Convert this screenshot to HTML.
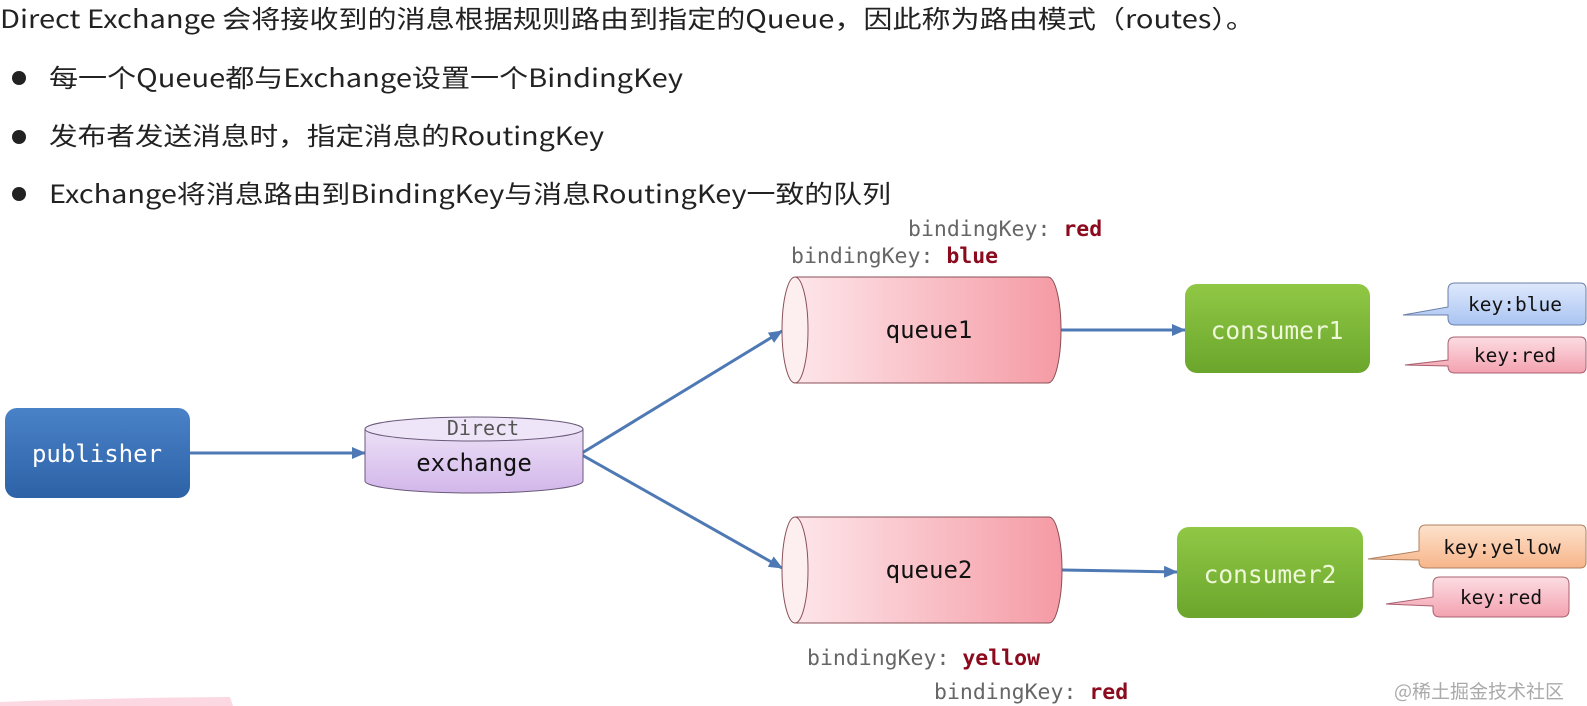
<!DOCTYPE html>
<html><head><meta charset="utf-8"><style>
html,body{margin:0;padding:0;background:#fff;}
svg{display:block;}
.t{font-family:"Noto Sans CJK SC","Liberation Sans",sans-serif;font-size:25px;fill:#222;}
.m{font-family:"DejaVu Sans Mono","Liberation Mono",monospace;}
</style></head><body>
<svg width="1587" height="706" viewBox="0 0 1587 706" xmlns="http://www.w3.org/2000/svg">
<defs>
<linearGradient id="pub" x1="0" y1="0" x2="0" y2="1"><stop offset="0" stop-color="#4a82c8"/><stop offset="1" stop-color="#2d62a6"/></linearGradient>
<linearGradient id="exc" x1="0" y1="0" x2="0" y2="1"><stop offset="0" stop-color="#ece0f6"/><stop offset="1" stop-color="#d2b6ea"/></linearGradient>
<linearGradient id="q" x1="0" y1="0" x2="1" y2="0"><stop offset="0" stop-color="#fde6ea"/><stop offset="1" stop-color="#f59aa4"/></linearGradient>
<linearGradient id="grn" x1="0" y1="0" x2="0" y2="1"><stop offset="0" stop-color="#90c845"/><stop offset="1" stop-color="#6ba62c"/></linearGradient>
<linearGradient id="bl" x1="0" y1="0" x2="0" y2="1"><stop offset="0" stop-color="#dfe9fc"/><stop offset="1" stop-color="#a9c4f2"/></linearGradient>
<linearGradient id="rd" x1="0" y1="0" x2="0" y2="1"><stop offset="0" stop-color="#fcdce2"/><stop offset="1" stop-color="#f3a2b0"/></linearGradient>
<linearGradient id="yl" x1="0" y1="0" x2="0" y2="1"><stop offset="0" stop-color="#fde2cc"/><stop offset="1" stop-color="#f7b58a"/></linearGradient>
<marker id="ar" markerWidth="14" markerHeight="12" refX="13" refY="6" orient="auto" markerUnits="userSpaceOnUse"><path d="M0,0 L14,6 L0,12 Z" fill="#4f79b4"/></marker>
</defs>

<text class="t" x="0" y="28" textLength="1255" lengthAdjust="spacingAndGlyphs">Direct Exchange 会将接收到的消息根据规则路由到指定的Queue，因此称为路由模式（routes）。</text>
<circle cx="19" cy="78" r="7" fill="#222"/>
<text class="t" x="49" y="87" textLength="634" lengthAdjust="spacingAndGlyphs">每一个Queue都与Exchange设置一个BindingKey</text>
<circle cx="19" cy="137" r="7" fill="#222"/>
<text class="t" x="49" y="145" textLength="555" lengthAdjust="spacingAndGlyphs">发布者发送消息时，指定消息的RoutingKey</text>
<circle cx="19" cy="194" r="7" fill="#222"/>
<text class="t" x="49" y="203" textLength="842" lengthAdjust="spacingAndGlyphs">Exchange将消息路由到BindingKey与消息RoutingKey一致的队列</text>

<g class="m" font-size="21.5">
<text x="908" y="236" fill="#666">bindingKey: <tspan fill="#8b0a1e" font-weight="bold">red</tspan></text>
<text x="791" y="263" fill="#666">bindingKey: <tspan fill="#8b0a1e" font-weight="bold">blue</tspan></text>
<text x="807" y="665" fill="#666">bindingKey: <tspan fill="#8b0a1e" font-weight="bold">yellow</tspan></text>
<text x="934" y="699" fill="#666">bindingKey: <tspan fill="#8b0a1e" font-weight="bold">red</tspan></text>
</g>

<g stroke="#4f79b4" stroke-width="3" fill="none" marker-end="url(#ar)">
<line x1="190" y1="453" x2="365" y2="453"/>
<line x1="582" y1="453" x2="782" y2="331"/>
<line x1="582" y1="455" x2="782" y2="568"/>
<line x1="1061" y1="330" x2="1185" y2="330"/>
<line x1="1062" y1="570" x2="1177" y2="572"/>
</g>

<rect x="5" y="408" width="185" height="90" rx="12" fill="url(#pub)"/>
<text class="m" x="97" y="462" font-size="24" fill="#fff" text-anchor="middle">publisher</text>

<path d="M365,429 L365,481 A109,12 0 0 0 583,481 L583,429 Z" fill="url(#exc)" stroke="#6a5a7a" stroke-width="1"/>
<ellipse cx="474" cy="429" rx="109" ry="12" fill="#efe5f8" stroke="#6a5a7a" stroke-width="1"/>
<text class="m" x="483" y="435" font-size="20" fill="#555" text-anchor="middle">Direct</text>
<text class="m" x="474" y="471" font-size="24" fill="#111" text-anchor="middle">exchange</text>

<path d="M795,277 L1048,277 A13,53 0 0 1 1048,383 L795,383 Z" fill="url(#q)" stroke="#8a5058" stroke-width="1"/>
<ellipse cx="795" cy="330" rx="13" ry="53" fill="#fdeef0" stroke="#8a5058" stroke-width="1"/>
<text class="m" x="929" y="338" font-size="24" fill="#111" text-anchor="middle">queue1</text>

<path d="M795,517 L1049,517 A13,53 0 0 1 1049,623 L795,623 Z" fill="url(#q)" stroke="#8a5058" stroke-width="1"/>
<ellipse cx="795" cy="570" rx="13" ry="53" fill="#fdeef0" stroke="#8a5058" stroke-width="1"/>
<text class="m" x="929" y="578" font-size="24" fill="#111" text-anchor="middle">queue2</text>

<rect x="1185" y="284" width="185" height="89" rx="12" fill="url(#grn)"/>
<text class="m" x="1277" y="339" font-size="24.5" fill="#eef8d8" text-anchor="middle">consumer1</text>
<rect x="1177" y="527" width="186" height="91" rx="12" fill="url(#grn)"/>
<text class="m" x="1270" y="583" font-size="24.5" fill="#eef8d8" text-anchor="middle">consumer2</text>

<g stroke="#6a7fa8" stroke-width="1">
<path d="M1455,283 L1580,283 Q1586,283 1586,289 L1586,319 Q1586,325 1580,325 L1455,325 Q1448,325 1448,318 L1448,315 L1403,315 L1448,307 L1448,290 Q1448,283 1455,283 Z" fill="url(#bl)"/>
<path d="M1455,337 L1580,337 Q1586,337 1586,343 L1586,367 Q1586,373 1580,373 L1455,373 Q1448,373 1448,366 L1448,366 L1405,365 L1448,360 L1448,344 Q1448,337 1455,337 Z" fill="url(#rd)" stroke="#a86070"/>
<path d="M1426,525 L1580,525 Q1586,525 1586,531 L1586,562 Q1586,568 1580,568 L1426,568 Q1419,568 1419,561 L1419,560 L1368,559 L1419,551 L1419,532 Q1419,525 1426,525 Z" fill="url(#yl)" stroke="#b08060"/>
<path d="M1440,577 L1562,577 Q1569,577 1569,584 L1569,610 Q1569,617 1562,617 L1440,617 Q1433,617 1433,610 L1433,606 L1386,604 L1433,597 L1433,584 Q1433,577 1440,577 Z" fill="url(#rd)" stroke="#a86070"/>
</g>
<g class="m" font-size="19.5" fill="#111" text-anchor="middle">
<text x="1515" y="311">key:blue</text>
<text x="1515" y="362">key:red</text>
<text x="1502" y="554">key:yellow</text>
<text x="1501" y="604">key:red</text>
</g>

<path d="M0,706 L0,702 Q100,698 230,697 L233,706 Z" fill="#fcd8e2"/>
<text x="1394" y="698" font-family="'Noto Sans CJK SC',sans-serif" font-size="19" fill="#aaa">@稀土掘金技术社区</text>
</svg>
</body></html>
